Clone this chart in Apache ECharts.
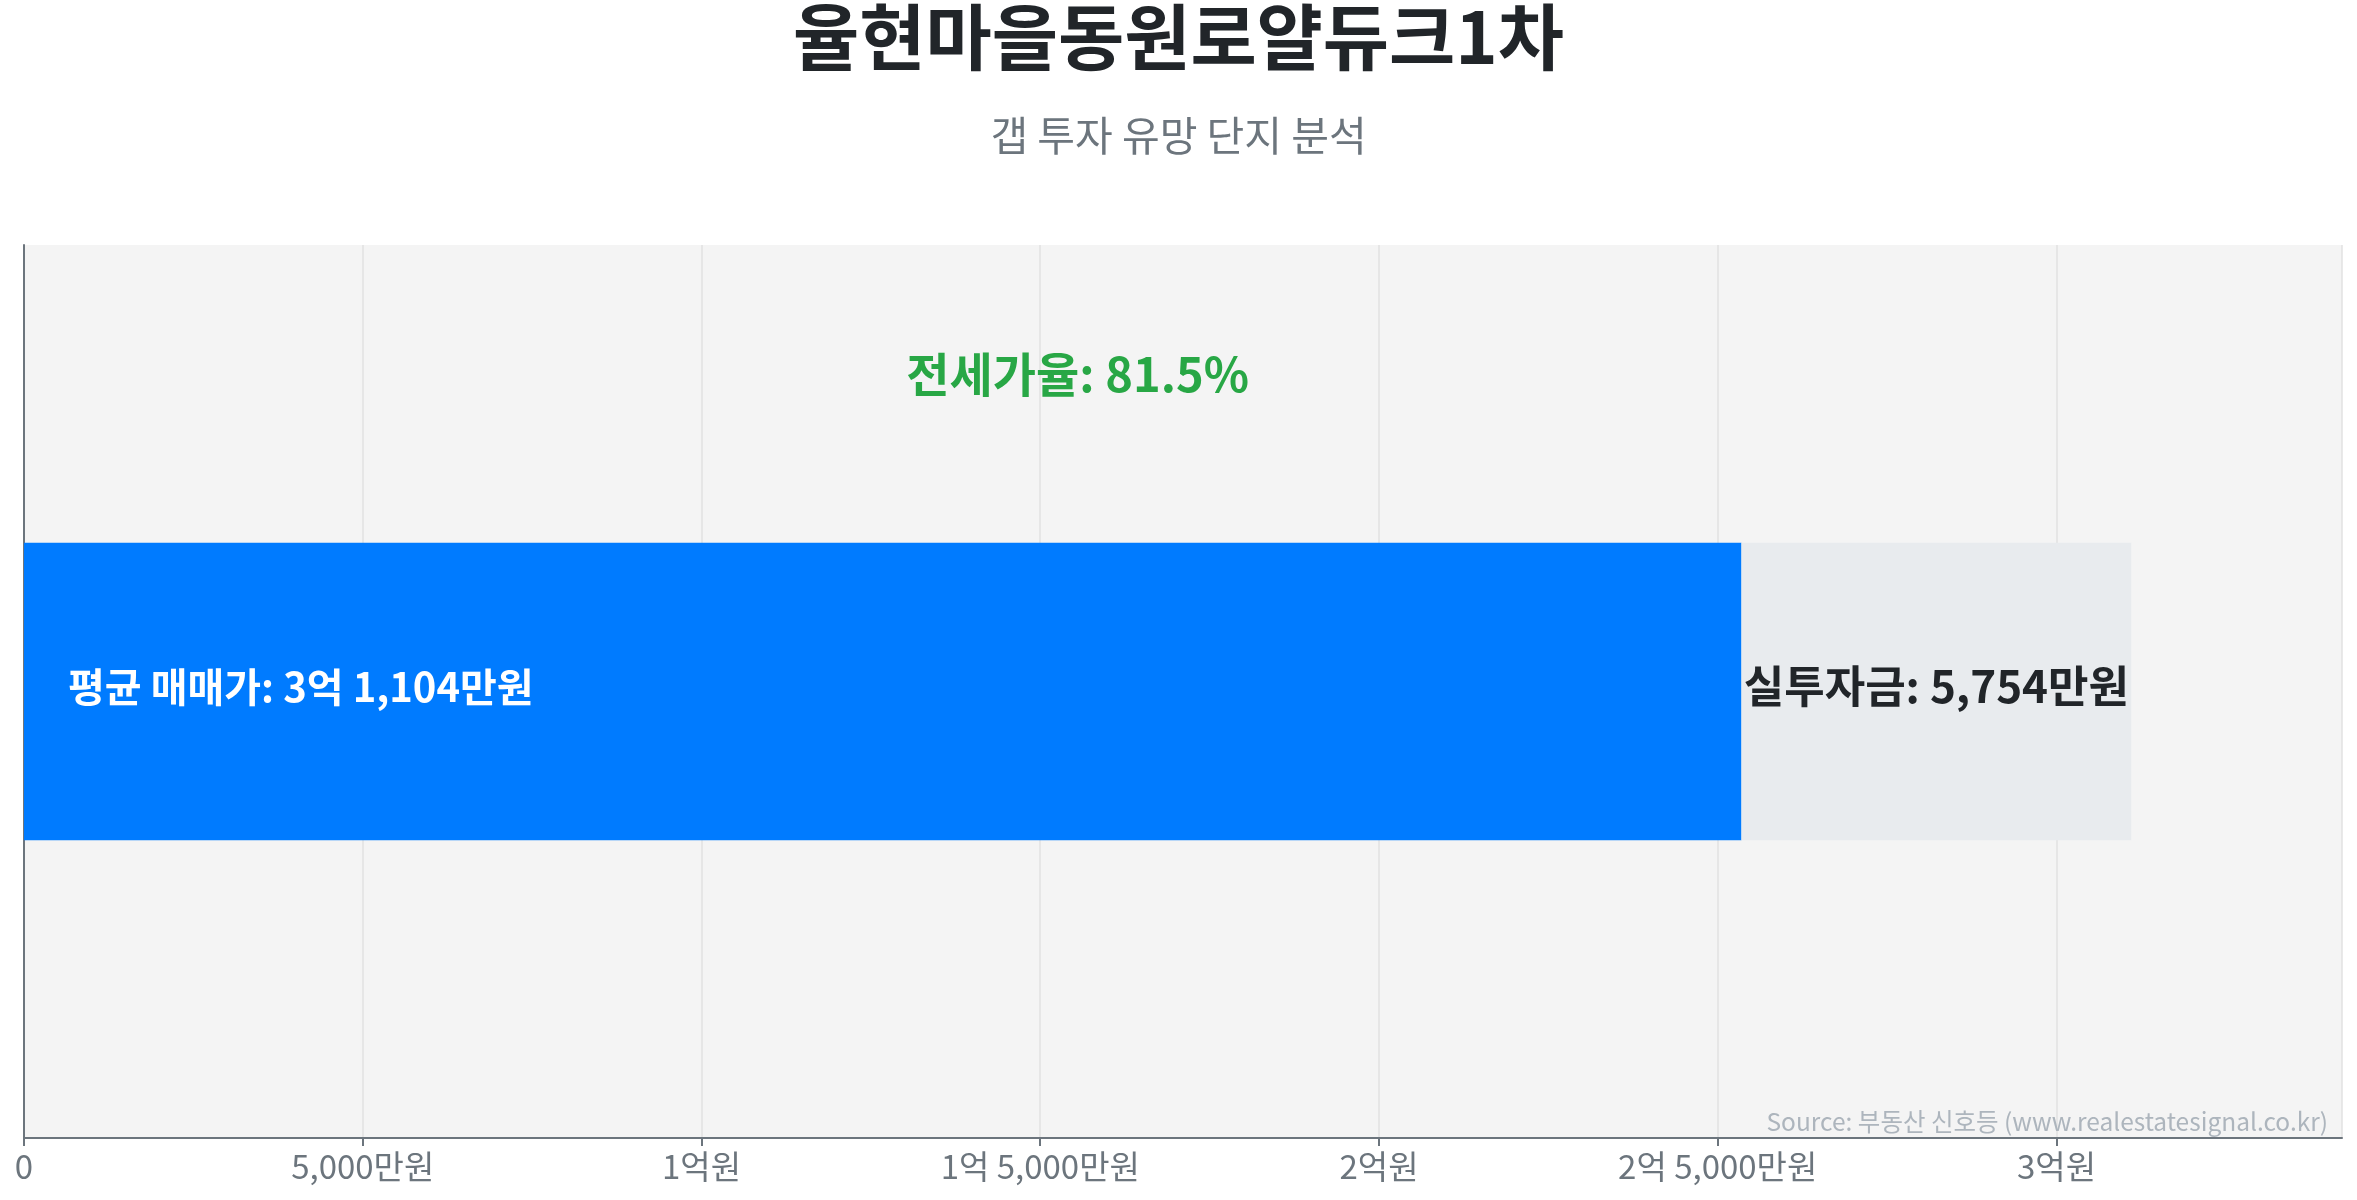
<!DOCTYPE html>
<html>
<head>
<meta charset="utf-8" />
<title>율현마을동원로얄듀크1차</title>
<script src="https://cdn.jsdelivr.net/npm/echarts@6/dist/echarts.min.js"></script>
<style>
  html, body { margin: 0; padding: 0; background: #fff; }
  #main { width: 2357px; height: 1200px; }
</style>
</head>
<body>
<div id="main"></div>
<script>
// 단위: 만원
var categories = ['율현마을동원로얄듀크1차'];
var jeonseValues = [25350];   // 전세가 (파란 막대)
var gapValues = [5754];       // 실투자금 (회색 막대)
var saleAvg = 31104;          // 평균 매매가
var jeonseRate = 81.5;

var FONT = '"Noto Sans CJK KR", "Noto Sans", sans-serif';

function fmtMan(v) {
  var eok = Math.floor(v / 10000);
  var man = Math.round(v % 10000);
  var manStr = man.toLocaleString('en-US');
  if (eok > 0 && man > 0) return eok + '억 ' + manStr + '만원';
  if (eok > 0) return eok + '억원';
  if (man > 0) return manStr + '만원';
  return '0';
}

var chart = echarts.init(document.getElementById('main'));

var option = {
  backgroundColor: '#ffffff',
  animation: false,
  title: [{
    text: categories[0],
    left: 'center',
    top: -4,
    textStyle: { fontFamily: FONT, fontSize: 72, fontWeight: 'bold', color: '#212529' }
  }, {
    text: '갭 투자 유망 단지 분석',
    left: 'center',
    top: 110,
    textStyle: { fontFamily: FONT, fontSize: 41, fontWeight: 'normal', color: '#6c757d' }
  }, {
    text: 'Source: 부동산 신호등 (www.realestatesignal.co.kr)',
    right: 24,
    top: 1104,
    textStyle: { fontFamily: FONT, fontSize: 24.5, fontWeight: 'normal', color: '#adb5bd' }
  }],
  grid: {
    left: 24, right: 15, top: 245, bottom: 62,
    show: true, backgroundColor: '#f4f4f4', borderWidth: 0
  },
  xAxis: {
    type: 'value',
    min: 0,
    max: saleAvg * 1.1,
    interval: 5000,
    axisLine: { show: true, lineStyle: { color: '#6c757d', width: 2 } },
    axisTick: { show: true, length: 8, lineStyle: { color: '#6c757d', width: 2 } },
    splitLine: { show: true, lineStyle: { color: '#e2e2e2', width: 1.5 } },
    axisLabel: {
      fontFamily: FONT, fontSize: 33, color: '#6c757d', margin: 12,
      showMaxLabel: false,
      formatter: fmtMan
    }
  },
  yAxis: {
    type: 'category',
    data: categories,
    axisLine: { show: true, lineStyle: { color: '#6c757d', width: 2 } },
    axisTick: { show: false },
    axisLabel: { show: false }
  },
  series: [{
    type: 'bar',
    stack: 'total',
    data: jeonseValues,
    barWidth: '33.3%',
    itemStyle: { color: '#007bff' },
    label: {
      show: true,
      position: 'insideLeft',
      distance: 44,
      offset: [0, -5],
      fontFamily: FONT, fontSize: 40, fontWeight: 'bold', color: '#ffffff',
      formatter: function () { return '평균 매매가: ' + fmtMan(saleAvg); }
    }
  }, {
    type: 'bar',
    stack: 'total',
    data: gapValues,
    barWidth: '33.3%',
    itemStyle: { color: '#e8ebee' },
    label: {
      show: true,
      position: 'inside',
      offset: [0, -5],
      fontFamily: FONT, fontSize: 44, fontWeight: 'bold', color: '#212529',
      formatter: function (p) { return '실투자금: ' + fmtMan(p.value); }
    }
  }]
};

chart.setOption(option);

var midX = chart.convertToPixel({ xAxisIndex: 0 }, saleAvg / 2);
chart.setOption({
  graphic: [{
    type: 'text',
    x: midX,
    y: 374,
    style: {
      text: '전세가율: ' + jeonseRate.toFixed(1) + '%',
      fontFamily: FONT, fontSize: 47, fontWeight: 'bold',
      fill: '#28a745', textAlign: 'center', textVerticalAlign: 'middle'
    }
  }]
});
</script>
</body>
</html>
